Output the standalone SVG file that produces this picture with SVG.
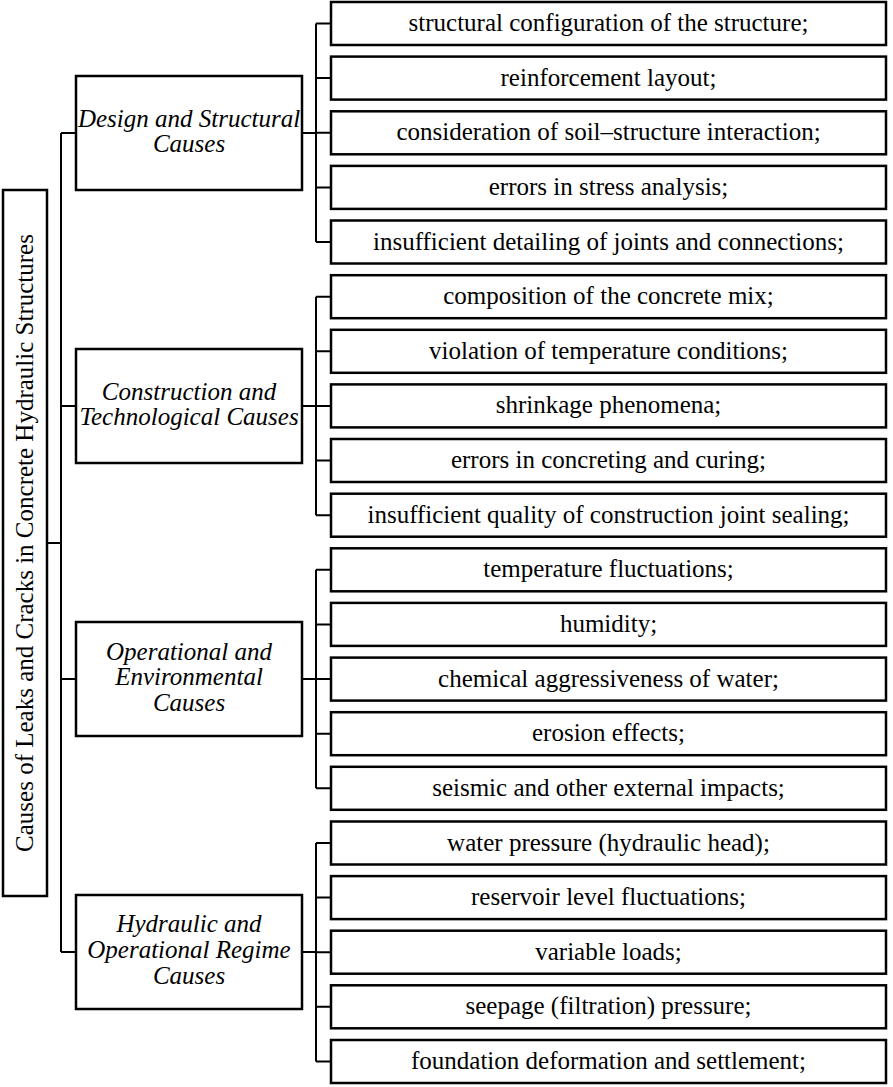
<svg xmlns="http://www.w3.org/2000/svg" width="893" height="1087" viewBox="0 0 893 1087">
<style>
rect{fill:#fff;stroke:#000;stroke-width:2.5}
.c{fill:none;stroke:#000;stroke-width:2}
text{font-family:"Liberation Serif","Times New Roman",serif;font-size:25px;fill:#000;text-anchor:middle}
.cat text{font-style:italic}
</style>
<rect width="893" height="1087" style="fill:#fff;stroke:none"/>
<g id="connectors" class="c">
<path d="M47,543H61M61,133V952M61,133H76M61,406H76M61,679H76M61,952H76"/>
<path d="M302,133H316M316,23.5V242M316,23.5H331M316,78.1H331M316,132.8H331M316,187.4H331M316,242H331"/>
<path d="M302,406H316M316,296.7V515.2M316,296.7H331M316,351.3H331M316,405.9H331M316,460.5H331M316,515.2H331"/>
<path d="M302,679H316M316,569.8V788.3M316,569.8H331M316,624.4H331M316,679.1H331M316,733.7H331M316,788.3H331"/>
<path d="M302,952H316M316,843V1061.5M316,843H331M316,897.6H331M316,952.2H331M316,1006.8H331M316,1061.5H331"/>
</g>
<g id="root">
<rect x="3" y="190" width="44" height="706"/>
<text transform="translate(33,543) rotate(-90)">Causes of Leaks and Cracks in Concrete Hydraulic Structures</text>
</g>
<g id="cat1" class="cat"><rect x="76" y="76" width="226" height="114"/>
<text x="189" y="126.5">Design and Structural</text><text x="189" y="152">Causes</text></g>
<g id="cat2" class="cat"><rect x="76" y="349" width="226" height="114"/>
<text x="189" y="399.5">Construction and</text><text x="189" y="425">Technological Causes</text></g>
<g id="cat3" class="cat"><rect x="76" y="622" width="226" height="114"/>
<text x="189" y="659.5">Operational and</text><text x="189" y="685">Environmental</text><text x="189" y="710.5">Causes</text></g>
<g id="cat4" class="cat"><rect x="76" y="895" width="226" height="114"/>
<text x="189" y="932">Hydraulic and</text><text x="189" y="958">Operational Regime</text><text x="189" y="983.5">Causes</text></g>
<g id="l0"><rect x="331" y="2" width="555" height="43"/><text x="608.5" y="31">structural configuration of the structure;</text></g>
<g id="l1"><rect x="331" y="56.6" width="555" height="43"/><text x="608.5" y="85.6">reinforcement layout;</text></g>
<g id="l2"><rect x="331" y="111.3" width="555" height="43"/><text x="608.5" y="140.3">consideration of soil–structure interaction;</text></g>
<g id="l3"><rect x="331" y="165.9" width="555" height="43"/><text x="608.5" y="194.9">errors in stress analysis;</text></g>
<g id="l4"><rect x="331" y="220.5" width="555" height="43"/><text x="608.5" y="249.5">insufficient detailing of joints and connections;</text></g>
<g id="l5"><rect x="331" y="275.2" width="555" height="43"/><text x="608.5" y="304.2">composition of the concrete mix;</text></g>
<g id="l6"><rect x="331" y="329.8" width="555" height="43"/><text x="608.5" y="358.8">violation of temperature conditions;</text></g>
<g id="l7"><rect x="331" y="384.4" width="555" height="43"/><text x="608.5" y="413.4">shrinkage phenomena;</text></g>
<g id="l8"><rect x="331" y="439" width="555" height="43"/><text x="608.5" y="468">errors in concreting and curing;</text></g>
<g id="l9"><rect x="331" y="493.7" width="555" height="43"/><text x="608.5" y="522.7">insufficient quality of construction joint sealing;</text></g>
<g id="l10"><rect x="331" y="548.3" width="555" height="43"/><text x="608.5" y="577.3">temperature fluctuations;</text></g>
<g id="l11"><rect x="331" y="602.9" width="555" height="43"/><text x="608.5" y="631.9">humidity;</text></g>
<g id="l12"><rect x="331" y="657.6" width="555" height="43"/><text x="608.5" y="686.6">chemical aggressiveness of water;</text></g>
<g id="l13"><rect x="331" y="712.2" width="555" height="43"/><text x="608.5" y="741.2">erosion effects;</text></g>
<g id="l14"><rect x="331" y="766.8" width="555" height="43"/><text x="608.5" y="795.8">seismic and other external impacts;</text></g>
<g id="l15"><rect x="331" y="821.5" width="555" height="43"/><text x="608.5" y="850.5">water pressure (hydraulic head);</text></g>
<g id="l16"><rect x="331" y="876.1" width="555" height="43"/><text x="608.5" y="905.1">reservoir level fluctuations;</text></g>
<g id="l17"><rect x="331" y="930.7" width="555" height="43"/><text x="608.5" y="959.7">variable loads;</text></g>
<g id="l18"><rect x="331" y="985.3" width="555" height="43"/><text x="608.5" y="1014.3">seepage (filtration) pressure;</text></g>
<g id="l19"><rect x="331" y="1040" width="555" height="43"/><text x="608.5" y="1069">foundation deformation and settlement;</text></g>
</svg>
